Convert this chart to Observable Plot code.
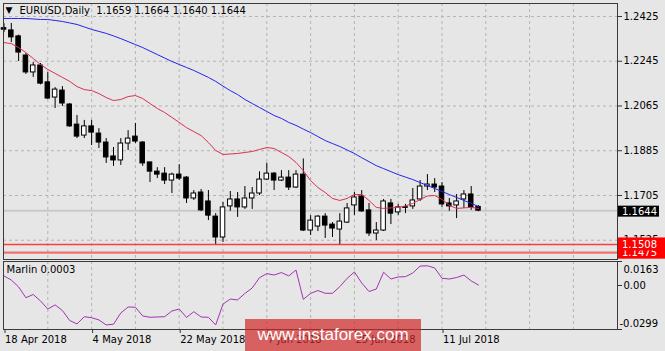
<!DOCTYPE html>
<html>
<head>
<meta charset="utf-8">
<script src="https://cdn.jsdelivr.net/npm/d3@7"></script>
<script src="https://cdn.jsdelivr.net/npm/@observablehq/plot@0.6"></script>
<style>
  html, body { margin: 0; padding: 0; background: #e6e6e6; }
  #wrap { position: relative; width: 665px; height: 351px; overflow: hidden; background: #e6e6e6; font-family: "DejaVu Sans", sans-serif; }
  #main { position: absolute; left: 0; top: 0; }
  #sub { position: absolute; left: 0; top: 260px; }
  #wm { position: absolute; left: 245px; top: 319px; width: 176px; height: 32px;
        background: rgba(208, 40, 40, 0.70); color: #fff; font-family: "Liberation Sans", Arial, sans-serif;
        font-size: 17px; line-height: 32px; text-align: center; }
</style>
</head>
<body>
<div id="wrap"><div id="main"></div><div id="sub"></div><div id="wm">www.instaforex.com</div></div>
<script>
// ---- data (EURUSD daily, 18 Apr 2018 .. 18 Jul 2018), bar index = position ----
const symbolTitle = "EURUSD,Daily";
const open  = [1.2378,1.2369,1.2345,1.2268,1.2200,1.2228,1.2160,1.2099,1.2127,1.2071,1.1990,1.1946,1.1983,1.1954,1.1918,1.1862,1.1846,1.1914,1.1942,1.1918,1.1838,1.1801,1.1793,1.1765,1.1789,1.1777,1.1693,1.1717,1.1681,1.1620,1.1536,1.1661,1.1689,1.1657,1.1693,1.1713,1.1769,1.1793,1.1765,1.1777,1.1737,1.1789,1.1564,1.1580,1.1620,1.1588,1.1568,1.1596,1.1665,1.1701,1.1645,1.1552,1.1564,1.1673,1.1637,1.1655,1.1661,1.1689,1.1741,1.1749,1.1741,1.1673,1.1665,1.1689,1.1709,1.1659];
const high  = [1.2396,1.2397,1.2350,1.2276,1.2240,1.2236,1.2200,1.2139,1.2143,1.2075,1.2027,1.2007,1.2007,1.1974,1.1934,1.1898,1.1934,1.1966,1.1995,1.1922,1.1838,1.1817,1.1817,1.1795,1.1829,1.1781,1.1725,1.1729,1.1725,1.1632,1.1677,1.1721,1.1717,1.1741,1.1737,1.1800,1.1835,1.1797,1.1805,1.1805,1.1805,1.1852,1.1624,1.1624,1.1632,1.1596,1.1632,1.1673,1.1717,1.1725,1.1673,1.1596,1.1689,1.1689,1.1669,1.1669,1.1733,1.1765,1.1789,1.1773,1.1757,1.1693,1.1709,1.1725,1.1741,1.1664];
const low   = [1.2360,1.2320,1.2244,1.2192,1.2180,1.2150,1.2091,1.2055,1.2063,1.1979,1.1934,1.1934,1.1906,1.1894,1.1834,1.1822,1.1826,1.1886,1.1914,1.1822,1.1757,1.1773,1.1749,1.1713,1.1765,1.1673,1.1685,1.1640,1.1604,1.1508,1.1516,1.1641,1.1617,1.1649,1.1649,1.1705,1.1765,1.1725,1.1761,1.1725,1.1733,1.1560,1.1544,1.1560,1.1532,1.1536,1.1508,1.1592,1.1625,1.1637,1.1540,1.1524,1.1560,1.1588,1.1625,1.1632,1.1649,1.1681,1.1725,1.1717,1.1657,1.1641,1.1612,1.1653,1.1645,1.1640];
const close = [1.2372,1.2341,1.2280,1.2200,1.2228,1.2155,1.2095,1.2131,1.2075,1.1983,1.1942,1.1983,1.1958,1.1918,1.1858,1.1846,1.1914,1.1934,1.1922,1.1834,1.1801,1.1789,1.1765,1.1789,1.1773,1.1693,1.1713,1.1645,1.1624,1.1536,1.1657,1.1689,1.1657,1.1693,1.1713,1.1769,1.1793,1.1765,1.1777,1.1737,1.1789,1.1564,1.1604,1.1620,1.1584,1.1572,1.1600,1.1653,1.1697,1.1641,1.1552,1.1564,1.1681,1.1632,1.1657,1.1658,1.1685,1.1741,1.1749,1.1737,1.1669,1.1661,1.1681,1.1709,1.1657,1.1644];
// moving averages (one value per bar)
const maFast = [1.2320,1.2316,1.2300,1.2280,1.2256,1.2232,1.2212,1.2196,1.2180,1.2164,1.2143,1.2131,1.2127,1.2115,1.2099,1.2087,1.2091,1.2103,1.2107,1.2095,1.2075,1.2055,1.2039,1.2019,1.1999,1.1978,1.1962,1.1946,1.1918,1.1886,1.1870,1.1872,1.1874,1.1878,1.1882,1.1890,1.1898,1.1894,1.1878,1.1862,1.1838,1.1805,1.1765,1.1737,1.1717,1.1693,1.1685,1.1693,1.1709,1.1709,1.1685,1.1657,1.1653,1.1655,1.1657,1.1663,1.1673,1.1689,1.1703,1.1705,1.1689,1.1665,1.1653,1.1655,1.1657,1.1653];
const maSlow = [1.2417,1.2417,1.2417,1.2417,1.2415,1.2413,1.2413,1.2409,1.2405,1.2399,1.2393,1.2383,1.2373,1.2365,1.2357,1.2347,1.2336,1.2324,1.2312,1.2300,1.2286,1.2272,1.2258,1.2244,1.2232,1.2220,1.2208,1.2194,1.2180,1.2164,1.2145,1.2127,1.2111,1.2091,1.2075,1.2059,1.2043,1.2027,1.2015,1.1999,1.1987,1.1972,1.1958,1.1942,1.1926,1.1914,1.1902,1.1888,1.1874,1.1857,1.1841,1.1825,1.1813,1.1801,1.1789,1.1779,1.1769,1.1757,1.1745,1.1733,1.1721,1.1709,1.1697,1.1685,1.1673,1.1661];
// Marlin oscillator
const marlin = [0.0065,0.0037,-0.0010,-0.0083,-0.0061,-0.0105,-0.0160,-0.0132,-0.0170,-0.0238,-0.0261,-0.0212,-0.0219,-0.0234,-0.0268,-0.0263,-0.0187,-0.0146,-0.0148,-0.0207,-0.0216,-0.0214,-0.0212,-0.0173,-0.0160,-0.0217,-0.0178,-0.0214,-0.0216,-0.0268,-0.0126,-0.0092,-0.0098,-0.0054,-0.0017,0.0053,0.0081,0.0071,0.0088,0.0065,0.0105,-0.0094,-0.0054,-0.0034,-0.0053,-0.0053,-0.0008,0.0048,0.0092,0.0017,-0.0041,-0.0024,0.0090,0.0044,0.0058,0.0060,0.0085,0.0132,0.0134,0.0119,0.0049,0.0044,0.0054,0.0071,0.0031,0.0003];
const marlinScale = [-0.0299, 0.0163];
// axes / levels
const priceTicks = [1.2425, 1.2245, 1.2065, 1.1885, 1.1705, 1.1525];
const levelLines = [1.1508, 1.1475];
const dateTickBars = [0, 12, 24, 36, 48, 60];
const dateTickLabels = ["18 Apr 2018", "4 May 2018", "22 May 2018", "7 Jun 2018", "25 Jun 2018", "11 Jul 2018"];
const gridBars = [6, 12, 18, 24, 30, 36, 42, 48, 54, 60, 66, 72, 78];

// ---- build ----
const n = close.length;
const bars = d3.range(n).map(i => ({i, o: open[i], h: high[i], l: low[i], c: close[i]}));
const last = bars[n - 1];
const ma = d3.range(n).map(i => ({i, fast: maFast[i], slow: maSlow[i], m: marlin[i]}));
const xDomain = [-0.07, 84.04];
const font = {fontFamily: "DejaVu Sans", fontSize: "10px", background: "transparent", color: "#000", overflow: "visible"};
const gridStyle = {stroke: "#b4b4b4", strokeDasharray: "3,3", strokeWidth: 1};
const half = 0.31;
const fmt4 = v => v.toFixed(4);

const main = Plot.plot({
  width: 665, height: 260,
  marginLeft: 3, marginRight: 48, marginTop: 3, marginBottom: 1,
  style: font,
  x: {domain: xDomain, axis: null},
  y: {domain: [1.14475, 1.24773], axis: null},
  marks: [
    Plot.ruleY(priceTicks, gridStyle),
    Plot.ruleX(gridBars, gridStyle),
    Plot.ruleY([last.c], {stroke: "#c9c9c9", strokeWidth: 2}),
    Plot.ruleY([levelLines[1]], {stroke: "#f07070", strokeWidth: 2.2}),
    Plot.ruleY([levelLines[0]], {stroke: "#ff3c3c", strokeWidth: 1.4}),
    Plot.ruleX(bars, {x: "i", y1: "l", y2: "h", stroke: "#000", strokeWidth: 1}),
    Plot.rect(bars.filter(d => d.c >= d.o), {x1: d => d.i - half, x2: d => d.i + half, y1: "o", y2: "c", fill: "#fff", stroke: "#000", strokeWidth: 1}),
    Plot.rect(bars.filter(d => d.c < d.o), {x1: d => d.i - half, x2: d => d.i + half, y1: "o", y2: "c", fill: "#000", stroke: "#000", strokeWidth: 1}),
    Plot.line(ma, {x: "i", y: "fast", stroke: "#dc3050", strokeWidth: 1}),
    Plot.line(ma, {x: "i", y: "slow", stroke: "#2424f0", strokeWidth: 1}),
    Plot.frame({stroke: "#3a3a3a", strokeWidth: 1}),
    Plot.axisY({anchor: "right", ticks: priceTicks, tickSize: 4, tickPadding: 2, tickFormat: fmt4, label: null, stroke: "#333", fill: "#000"}),
    Plot.text([`\u25BC`], {frameAnchor: "top-left", dx: 2, dy: 3, fontSize: 9, fill: "#000", textAnchor: "start"}),
    Plot.text([`${symbolTitle}  ${fmt4(last.o)} ${fmt4(last.h)} ${fmt4(last.l)} ${fmt4(last.c)}`], {frameAnchor: "top-left", dx: 16, dy: 3, fill: "#000", textAnchor: "start"})
  ]
});
document.getElementById("main").appendChild(main);

// price labels on the right axis (current price + levels), positioned via the plot's y scale
(function () {
  const ys = main.scale("y");
  const fy = ys.apply ? v => ys.apply(v) : d3.scaleLinear(ys.domain, ys.range);
  const svg = d3.select(main);
  const g = svg.append("g").attr("font-family", "DejaVu Sans").attr("font-size", 10).attr("text-anchor", "start");
  const boxes = [
    {v: last.c, fill: "#000", w: 41, h: 11, off: 1},
    {v: levelLines[1], fill: "#ff0000", w: 47, h: 13, off: 0},
    {v: levelLines[0], fill: "#ff0000", w: 47, h: 13, off: 0}
  ];
  for (const b of boxes) {
    const cy = fy(b.v) + b.off;
    g.append("rect").attr("x", 618).attr("y", cy - b.h / 2).attr("width", b.w).attr("height", b.h).attr("fill", b.fill);
    g.append("text").attr("x", 622).attr("y", cy).attr("dy", "0.36em").attr("text-anchor", "start").attr("fill", "#fff").text(fmt4(b.v));
  }
})();

const sub = Plot.plot({
  width: 665, height: 91,
  marginLeft: 3, marginRight: 48, marginTop: 1, marginBottom: 22,
  style: font,
  x: {domain: xDomain, axis: null},
  y: {domain: marlinScale, axis: null},
  marks: [
    Plot.ruleX(gridBars, gridStyle),
    Plot.line(ma, {x: "i", y: "m", stroke: "#a433b0", strokeWidth: 1}),
    Plot.frame({stroke: "#3a3a3a", strokeWidth: 1}),
    Plot.axisY({anchor: "right", ticks: [marlinScale[1], 0, marlinScale[0]], tickSize: 4, tickFormat: () => "", label: null, stroke: "#333"}),
    Plot.text([marlinScale[1]], {y: d => d, text: d => d.toFixed(4), frameAnchor: "right", dx: 6, dy: 8, textAnchor: "start", fill: "#000"}),
    Plot.text([0], {y: d => d, text: d => d.toFixed(2), frameAnchor: "right", dx: 6, textAnchor: "start", fill: "#000"}),
    Plot.text([marlinScale[0]], {y: d => d, text: d => d.toFixed(4), frameAnchor: "right", dx: 2, dy: -6, textAnchor: "start", fill: "#000"}),
    Plot.axisX({anchor: "bottom", ticks: dateTickBars, tickSize: 4, tickPadding: 2, tickFormat: d => dateTickLabels[dateTickBars.indexOf(d)], textAnchor: "start", dx: 1, label: null, stroke: "#333", fill: "#000"}),
    Plot.text([`Marlin ${fmt4(marlin[n - 1])}`], {frameAnchor: "top-left", dx: 3, dy: 4, fill: "#000", textAnchor: "start"})
  ]
});
document.getElementById("sub").appendChild(sub);
</script>
</body>
</html>
